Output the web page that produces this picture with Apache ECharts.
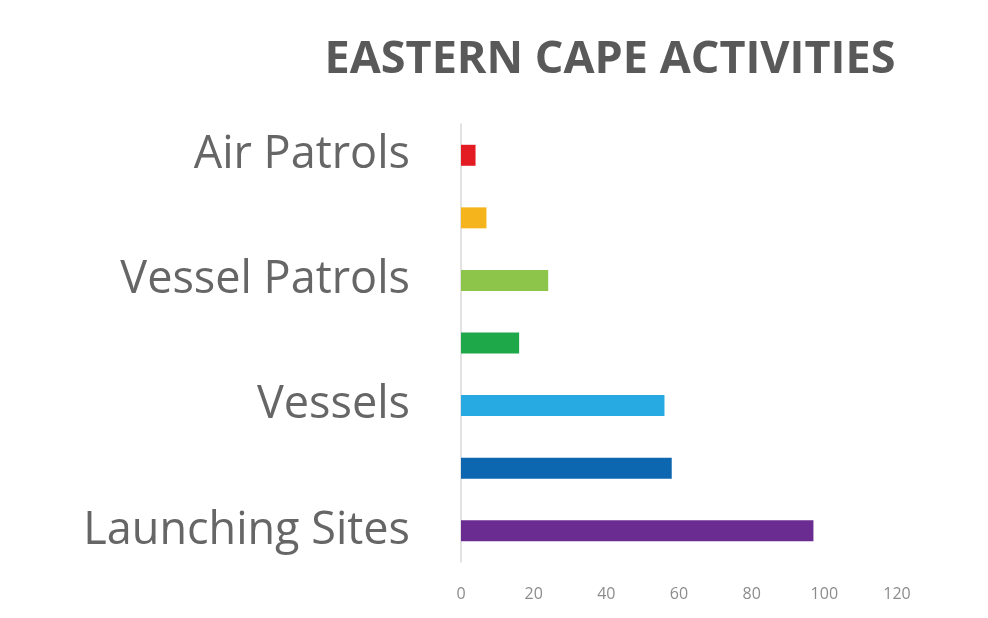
<!DOCTYPE html>
<html>
<head>
<meta charset="utf-8">
<script src="https://cdn.jsdelivr.net/npm/echarts@6/dist/echarts.min.js"></script>
<style>
  html, body { margin: 0; padding: 0; background: #fff; }
  #main { width: 988px; height: 618px; }
</style>
</head>
<body>
<div id="main"></div>
<script>
// categories bottom -> top; unlabeled rows are hidden by the axis in the original
var categories = ['Launching Sites', '', 'Vessels', '', 'Vessel Patrols', '', 'Air Patrols'];
var values = [97, 58, 56, 16, 24, 7, 4];
var barColors = ['#6a2c91', '#0d67b0', '#27a9e1', '#1fa84a', '#8dc54b', '#f5b41c', '#e31b23'];
var xTicks = [0, 20, 40, 60, 80, 100, 120];

var chart = echarts.init(document.getElementById('main'));
var option = {
    backgroundColor: '#ffffff',
    title: {
        text: 'EASTERN CAPE ACTIVITIES',
        left: 605,
        top: 33,
        textAlign: 'center',
        textStyle: {
            fontFamily: 'Open Sans',
            fontWeight: 'bold',
            fontSize: 45,
            color: '#595959'
        }
    },
    grid: {
        left: 461,
        right: 91,
        top: 124,
        bottom: 56
    },
    xAxis: {
        type: 'value',
        min: xTicks[0],
        max: xTicks[xTicks.length - 1],
        interval: 20,
        axisLine: { show: false },
        axisTick: { show: false },
        splitLine: { show: false },
        axisLabel: {
            margin: 24,
            fontFamily: 'Open Sans',
            fontSize: 16,
            color: '#8c8c8c'
        }
    },
    yAxis: {
        type: 'category',
        data: categories,
        axisTick: { show: false },
        axisLine: { lineStyle: { color: '#d9d9d9', width: 1.5 } },
        axisLabel: {
            interval: 0,
            margin: 51,
            fontFamily: 'Open Sans',
            fontSize: 45,
            color: '#666666',
            padding: [6, 0, 0, 0]
        }
    },
    series: [{
        type: 'bar',
        barWidth: 21,
        data: values.map(function (v, i) {
            return { value: v, itemStyle: { color: barColors[i] } };
        })
    }]
};
chart.setOption(option);
</script>
</body>
</html>
